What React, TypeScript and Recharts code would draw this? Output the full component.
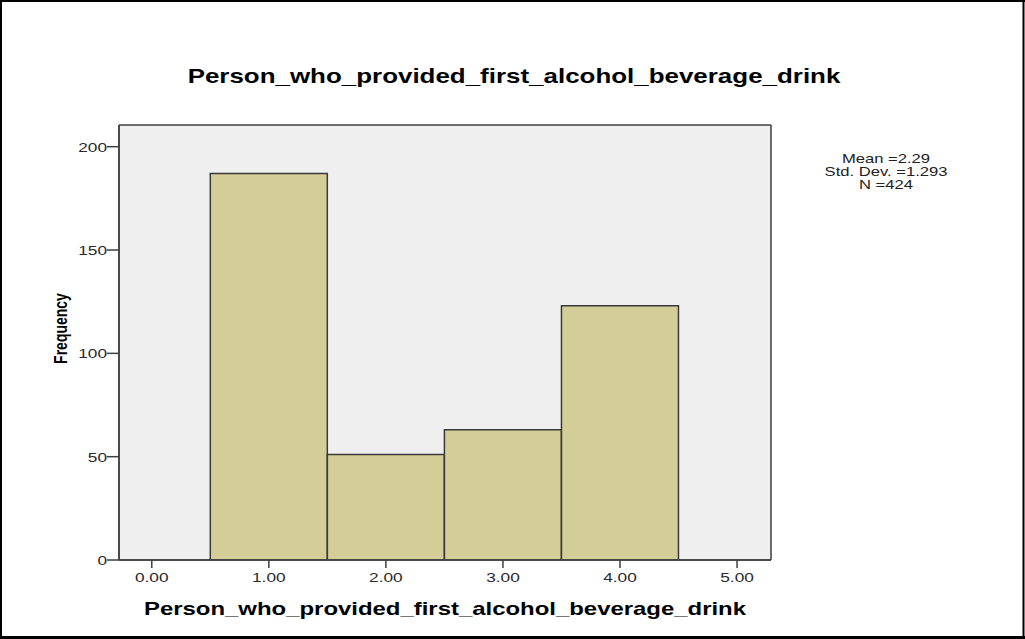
import React from 'react';
import { ComposedChart, Bar, XAxis, YAxis, CartesianGrid, Label } from 'recharts';

const binCenters = [1, 2, 3, 4];
const frequencies = [187, 51, 63, 123];
const xTicks = [0, 1, 2, 3, 4, 5];
const yTicks = [0, 50, 100, 150, 200];
const statsLines = ['Mean =2.29', 'Std. Dev. =1.293', 'N =424'];
const chartTitle = 'Person_who_provided_first_alcohol_beverage_drink';
const xAxisTitle = 'Person_who_provided_first_alcohol_beverage_drink';
const yAxisTitle = 'Frequency';

const data = binCenters.map((x, i) => ({ x, count: frequencies[i] }));

const FONT = '"Liberation Sans", Arial, Helvetica, sans-serif';
const SX = 1.33;
const W = 1025;
const H = 639;
const AXIS = '#3f3f3f';

function XTick(props: any) {
  const { x, y, payload } = props;
  return (
    <g transform={`translate(${x},${y + 12}) scale(${SX},1)`}>
      <text x={0} y={0} textAnchor="middle" fontFamily={FONT} fontSize={13} fill="#2a2a2a">
        {Number(payload.value).toFixed(2)}
      </text>
    </g>
  );
}

function YTick(props: any) {
  const { x, y, payload } = props;
  return (
    <g transform={`translate(${x},${y + 5}) scale(${SX},1)`}>
      <text x={0} y={0} textAnchor="end" fontFamily={FONT} fontSize={13} fill="#2a2a2a">
        {String(payload.value)}
      </text>
    </g>
  );
}

function XLabel(props: any) {
  const vb = props.viewBox || {};
  const cx = vb.x + vb.width / 2;
  return (
    <g transform={`translate(${cx},${vb.y + 55}) scale(${SX},1)`}>
      <text x={0} y={0} textAnchor="middle" fontFamily={FONT} fontSize={18} fontWeight="bold" fill="#000">
        {xAxisTitle}
      </text>
    </g>
  );
}

function YLabel(props: any) {
  const vb = props.viewBox || {};
  const cy = vb.y + vb.height / 2 - 14;
  return (
    <g transform={`translate(${vb.x + 8},${cy}) scale(${SX},1) rotate(-90)`}>
      <text x={0} y={0} textAnchor="middle" fontFamily={FONT} fontSize={14} fontWeight="bold" fill="#000">
        {yAxisTitle}
      </text>
    </g>
  );
}

const frameH = (p: any) => [p.offset.top, p.offset.top + p.offset.height];
const frameV = (p: any) => [p.offset.left, p.offset.left + p.offset.width];

export default function App() {
  return (
    <div style={{ position: 'absolute', left: 0, top: 0, width: W, height: H, background: '#fff' }}>
      <ComposedChart
        width={W}
        height={H}
        data={data}
        margin={{ top: 125, right: 254, bottom: 49, left: 59 }}
        barCategoryGap={0}
        barGap={0}
      >
        <CartesianGrid
          fill="#efefef"
          fillOpacity={1}
          stroke={AXIS}
          strokeWidth={1.5}
          horizontalCoordinatesGenerator={frameH}
          verticalCoordinatesGenerator={frameV}
          xAxisId="main"
          yAxisId="main"
        />
        <XAxis
          xAxisId="main"
          type="number"
          dataKey="x"
          domain={[-0.28, 5.29]}
          ticks={xTicks}
          allowDataOverflow
          height={30}
          tickSize={8}
          tickMargin={2}
          tick={<XTick />}
          tickLine={{ stroke: AXIS, strokeWidth: 1.5 }}
          axisLine={{ stroke: AXIS, strokeWidth: 1.5 }}
        >
          <Label content={<XLabel />} />
        </XAxis>
        <YAxis
          yAxisId="main"
          type="number"
          domain={[0, 210.5]}
          ticks={yTicks}
          allowDataOverflow
          width={60}
          tickSize={12}
          tickMargin={0}
          tick={<YTick />}
          tickLine={{ stroke: AXIS, strokeWidth: 1.5 }}
          axisLine={{ stroke: AXIS, strokeWidth: 1.5 }}
        >
          <Label content={<YLabel />} />
        </YAxis>
        <Bar
          xAxisId="main"
          yAxisId="main"
          dataKey="count"
          fill="#d3ce97"
          stroke="#3a3a3a"
          strokeWidth={1.5}
          isAnimationActive={false}
        />
      </ComposedChart>
      <svg
        width={W}
        height={H}
        style={{ position: 'absolute', left: 0, top: 0, pointerEvents: 'none' }}
      >
        <line x1={0} y1={1} x2={W} y2={1} stroke="#000" strokeWidth={2} />
        <line x1={1} y1={0} x2={1} y2={H} stroke="#000" strokeWidth={2} />
        <line x1={0} y1={637.5} x2={W} y2={637.5} stroke="#000" strokeWidth={3} />
        <line x1={1023.5} y1={0} x2={1023.5} y2={H} stroke="#000" strokeWidth={2} />
        <g transform={`translate(514,83) scale(${SX},1)`}>
          <text x={0} y={0} textAnchor="middle" fontFamily={FONT} fontSize={19.5} fontWeight="bold" fill="#000">
            {chartTitle}
          </text>
        </g>
        {statsLines.map((s, i) => (
          <g key={s} transform={`translate(886,${163 + i * 13}) scale(${SX},1)`}>
            <text x={0} y={0} textAnchor="middle" fontFamily={FONT} fontSize={12.5} fill="#222">
              {s}
            </text>
          </g>
        ))}
      </svg>
    </div>
  );
}
